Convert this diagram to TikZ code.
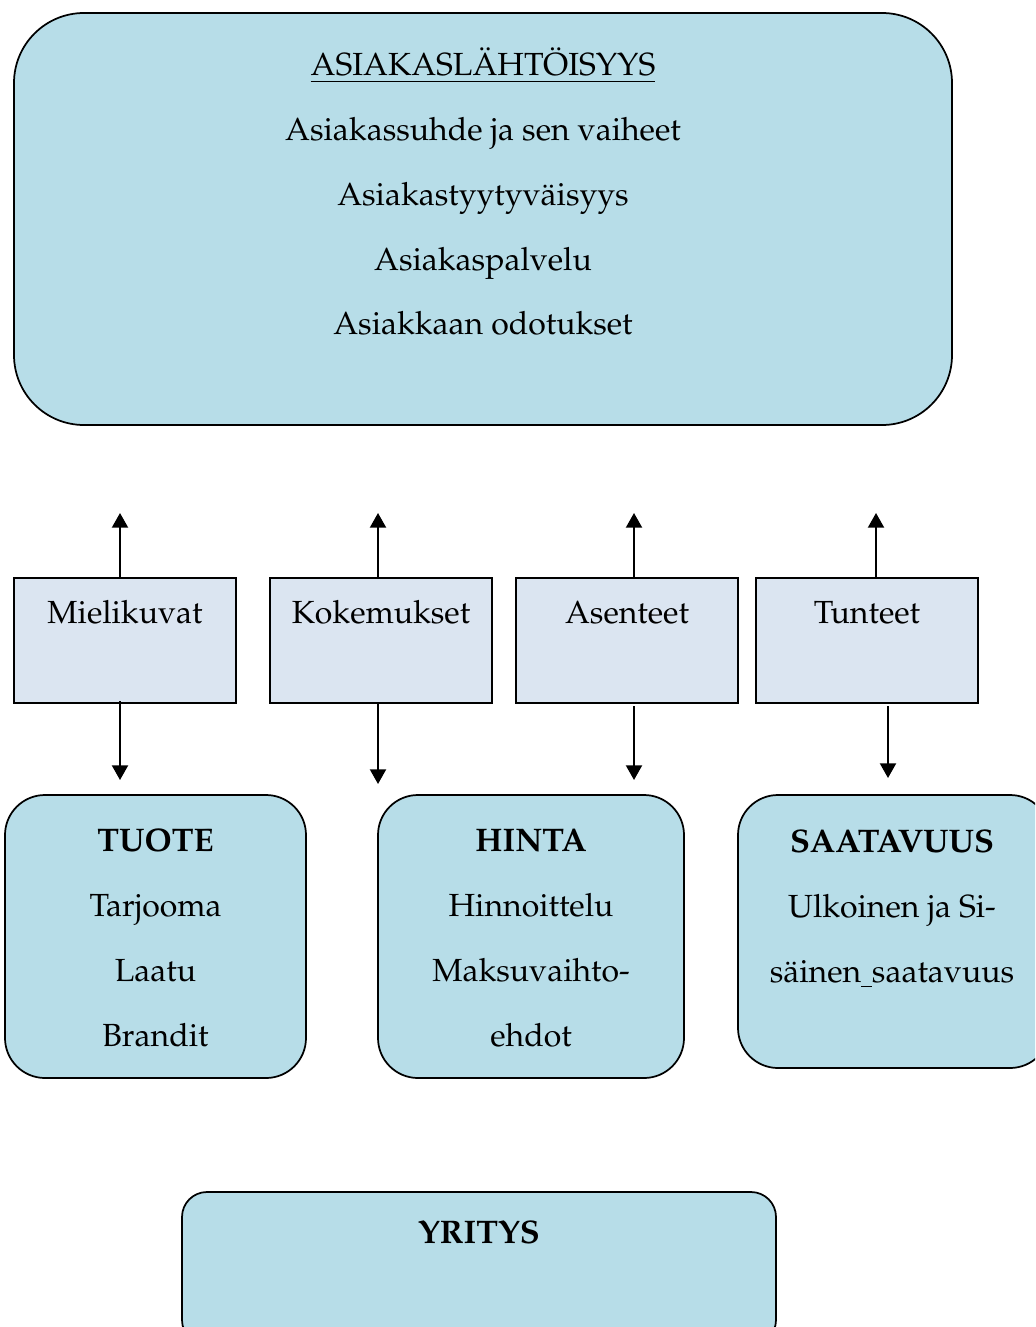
\documentclass[tikz,border=0pt]{standalone}
\usepackage[T1]{fontenc}
\usepackage{mathpazo}
\usetikzlibrary{arrows.meta}
\definecolor{boxblue}{HTML}{B7DDE8}
\definecolor{boxgrey}{HTML}{DBE5F1}
\begin{document}
\begin{tikzpicture}[x=0.75pt,y=-0.75pt,
  bigbox/.style={draw=black, line width=1.3pt, fill=boxblue, rounded corners=#1, inner sep=0pt},
  smallbox/.style={draw=black, line width=1.1pt, fill=boxgrey, minimum width=166.5pt, minimum height=93.75pt, inner sep=0pt},
  txt/.style={inner sep=0pt, anchor=base, font=\fontsize{24}{28}\selectfont},
  htxt/.style={txt, font=\fontsize{24.5}{28}\selectfont\bfseries},
  arr/.style={line width=1.5pt, -{Triangle[width=12pt,length=11pt]}}]
\useasboundingbox (0,0) rectangle (1035,1327);
\clip (0,0) rectangle (1035,1327);

% customer orientation box
\node[bigbox=52.5pt, minimum width=703.5pt, minimum height=309pt] (top) at (483,219) {};
\node[txt] (t0) at (483,76) {\underline{ASIAKASL\"AHT\"OISYYS}};
\node[txt] (t1) at (483,141) {Asiakassuhde ja sen vaiheet};
\node[txt] (t2) at (483,205.5) {Asiakastyytyv\"aisyys};
\node[txt] (t3) at (483,270) {Asiakaspalvelu};
\node[txt] (t4) at (483,334.5) {Asiakkaan odotukset};

% middle row
\node[smallbox] (mk) at (125,640.5) {};
\node[smallbox] (ko) at (381,640.5) {};
\node[smallbox] (as) at (627,640.5) {};
\node[smallbox] (tu) at (867,640.5) {};
\node[txt] (mkt) at (125,623) {Mielikuvat};
\node[txt] (kot) at (381,623) {Kokemukset};
\node[txt] (ast) at (627,623) {Asenteet};
\node[txt] (tut) at (867,623) {Tunteet};

% arrow ends
\coordinate (u1) at (120,513);
\coordinate (u2) at (378,513);
\coordinate (u3) at (634,513);
\coordinate (u4) at (876,513);
\coordinate (d1) at (120,780);
\coordinate (d2) at (378,784);
\coordinate (d3) at (634,780);
\coordinate (d4) at (888,778);

\draw[arr] (u1 |- mk.north) -- (u1);
\draw[arr] (u2 |- ko.north) -- (u2);
\draw[arr] (u3 |- as.north) -- (u3);
\draw[arr] (u4 |- tu.north) -- (u4);
\draw[arr] ([yshift=2pt]d1 |- mk.south) -- (d1);
\draw[arr] (d2 |- ko.south) -- (d2);
\draw[arr] ([yshift=-2pt]d3 |- as.south) -- (d3);
\draw[arr] ([yshift=-2pt]d4 |- tu.south) -- (d4);

% bottom row
\node[bigbox=30pt, minimum width=225.75pt, minimum height=212.25pt] (tuote) at (155.5,936.5) {};
\node[bigbox=30pt, minimum width=229.5pt, minimum height=212.25pt] (hinta) at (531,936.5) {};
\node[bigbox=30pt, minimum width=234pt, minimum height=204.75pt] (saat) at (894,931.5) {};

\node[htxt] (tuh) at (155.5,851) {TUOTE};
\node[txt] (tu1) at (155.5,916) {Tarjooma};
\node[txt] (tu2) at (155.5,981) {Laatu};
\node[txt] (tu3) at (155.5,1046) {Brandit};

\node[htxt] (hih) at (531,851) {HINTA};
\node[txt] (hi1) at (531,916) {Hinnoittelu};
\node[txt] (hi2) at (531,981) {Maksuvaihto-};
\node[txt] (hi3) at (531,1046) {ehdot};

\node[htxt] (sah) at (892,852) {SAATAVUUS};
\node[txt] (sa1) at (892,917) {Ulkoinen ja Si-};
\node[txt] (sa2) at (892,982) {s\"ainen\underline{\,\,}saatavuus};

% company box
\node[bigbox=18.75pt, minimum width=445.5pt, minimum height=114.75pt] (yr) at (479,1268.5) {};
\node[htxt] (yrt) at (479,1243) {YRITYS};
\end{tikzpicture}
\end{document}
